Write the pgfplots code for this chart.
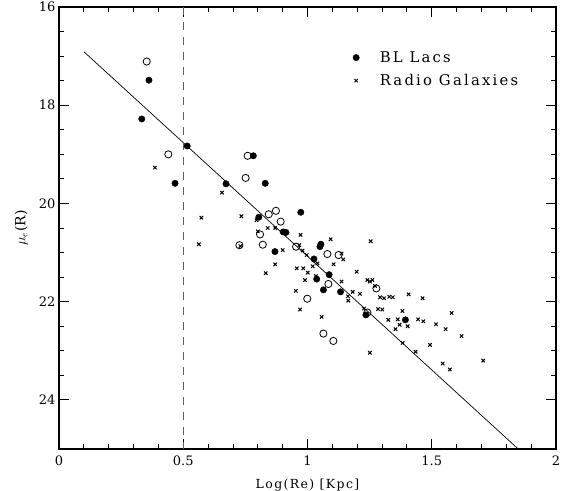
\documentclass[border=0pt]{standalone}
\usepackage{fontspec}
\setmainfont{DejaVu Serif}
\newfontfamily\spaced{DejaVu Serif}[LetterSpace=11]
\newfontfamily\wide{DejaVu Serif}[LetterSpace=15]
\usepackage{pgfplots}
\pgfplotsset{compat=1.18}

% BL Lacs (filled), unresolved / other (open), radio galaxies (crosses)
\pgfplotstableread{
x y
0.362 17.49
0.333 18.28
0.516 18.83
0.467 19.59
0.672 19.60
0.782 19.03
0.830 19.59
0.804 20.28
0.869 20.98
0.973 20.18
0.902 20.58
0.913 20.59
1.050 20.88
1.054 20.83
1.026 21.13
1.087 21.45
1.037 21.54
1.064 21.76
1.133 21.80
1.235 22.27
1.394 22.37
}\bllacs
\pgfplotstableread{
x y
0.353 17.11
0.440 19.00
0.759 19.03
0.751 19.48
0.844 20.22
0.873 20.15
0.892 20.37
0.809 20.63
0.726 20.85
0.820 20.84
0.954 20.88
1.080 21.03
1.125 21.05
1.084 21.64
0.999 21.94
1.064 22.65
1.104 22.80
1.277 21.73
1.241 22.22
}\openpts
\pgfplotstableread{
x y
0.386 19.27
0.656 19.78
0.573 20.29
0.734 20.26
0.795 20.34
0.840 20.50
0.870 20.50
0.800 20.57
0.730 20.87
0.563 20.83
0.870 21.24
0.832 21.42
0.900 20.95
0.972 20.64
0.967 20.85
0.980 20.96
1.093 20.73
1.137 21.02
1.144 21.14
1.105 21.24
0.997 21.05
1.040 21.22
1.021 21.28
0.957 21.32
0.983 21.32
1.001 21.41
0.990 21.56
1.034 21.48
1.137 21.59
1.198 21.39
1.254 20.77
0.953 21.78
0.970 22.16
1.057 22.31
1.163 21.89
1.164 21.98
1.182 21.80
1.211 21.84
1.241 21.56
1.251 21.59
1.261 21.56
1.272 21.68
1.227 22.14
1.284 22.15
1.301 22.16
1.292 21.91
1.308 21.93
1.329 21.90
1.343 21.91
1.325 22.37
1.354 22.56
1.371 22.47
1.363 22.36
1.403 22.50
1.382 22.19
1.407 21.85
1.463 21.93
1.445 22.36
1.466 22.40
1.517 22.46
1.556 22.56
1.580 22.23
1.620 22.70
1.493 22.88
1.435 23.02
1.544 23.26
1.573 23.38
1.707 23.20
1.251 23.04
1.383 22.84
}\radiogal

\begin{document}
\begin{tikzpicture}
\begin{axis}[
    name=ax,
    scale only axis,
    width=497pt, height=442pt,
    xmin=0, xmax=2, ymin=16, ymax=25,
    y dir=reverse,
    xtick={0,0.5,1,1.5,2}, minor x tick num=4,
    ytick={16,18,20,22,24}, minor y tick num=3,
    tick align=inside,
    major tick length=10pt, minor tick length=5pt,
    tick style={black, line width=0.9pt},
    axis line style={line width=1.4pt},
    /pgf/number format/assume math mode=true,
    tick label style={font=\fontsize{13}{15}\selectfont},
    xticklabel style={yshift=-3pt},
    label style={font=\spaced\fontsize{12.5}{15}\selectfont},
    xlabel={Log(Re) [Kpc]},
    xlabel shift=7pt,
    ylabel={$\mu_e$(R)},
    ylabel style={font=\fontsize{14}{15}\selectfont},
    ylabel shift=4pt,
    legend style={draw=none, fill=none, at={(axis cs:1.17,16.82)}, anchor=north west,
        font=\wide\fontsize{14.8}{17}\selectfont, row sep=6.5pt},
    legend cell align=left,
    legend image code/.code={\draw[#1] plot coordinates {(0cm,0cm)}; \path[draw=none] (0.76cm,0cm);},
]
\addplot[black, line width=0.7pt, forget plot] coordinates {(0.1,16.91) (1.848,25)};
\addplot[gray!75!black, line width=1.3pt, dash pattern=on 8pt off 7pt, forget plot]
    coordinates {(0.5,16) (0.5,25)};
\addplot[only marks, mark=*, mark size=3.2pt, black] table {\bllacs};
\addlegendentry{BL Lacs}
\addplot[only marks, mark=x, mark size=2.4pt, black, line width=1pt] table {\radiogal};
\addlegendentry{Radio Galaxies}
\addplot[only marks, mark=o, mark size=3.6pt, black, line width=0.8pt, forget plot] table {\openpts};
\end{axis}
\pgfresetboundingbox
\path[use as bounding box] ([shift={(-59pt,-42pt)}]ax.south west) rectangle ([shift={(5pt,7pt)}]ax.north east);
\end{tikzpicture}
\end{document}
